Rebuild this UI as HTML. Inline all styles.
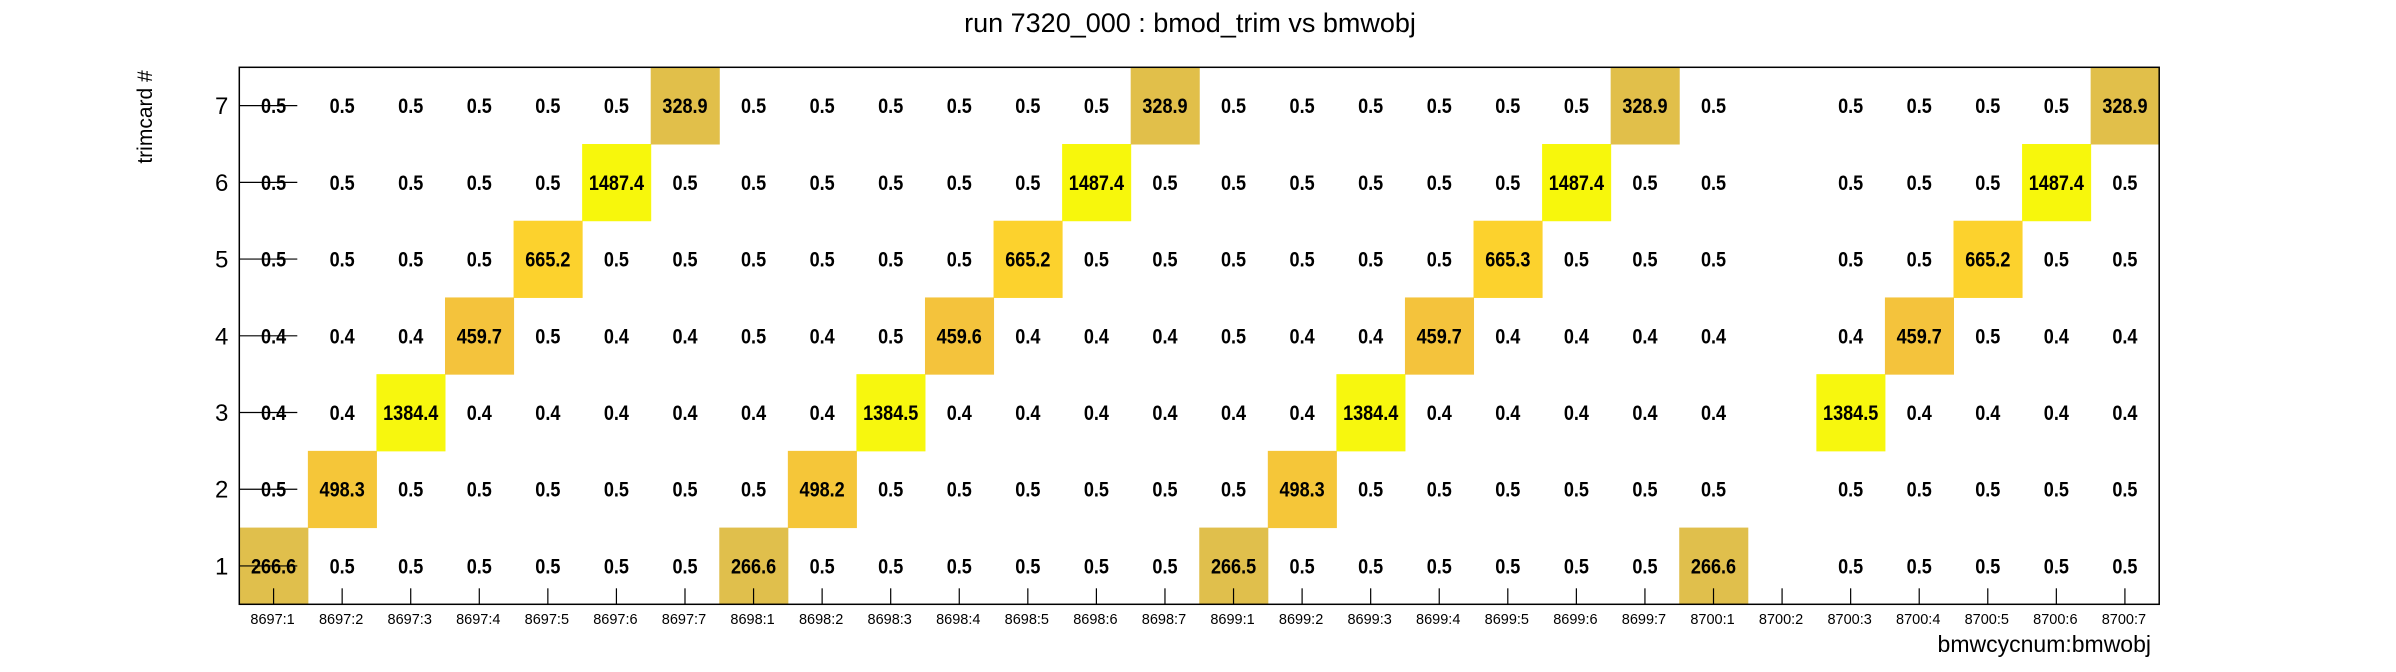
<!DOCTYPE html>
<html><head><meta charset="utf-8">
<style>
html,body{margin:0;padding:0;background:#fff;}
svg{display:block;font-family:"Liberation Sans",Arial,sans-serif;}
</style></head>
<body>
<svg id="chart" width="2396" height="672" viewBox="0 0 2396 672" xmlns="http://www.w3.org/2000/svg">
<rect width="2396" height="672" fill="#fff"/>
<text x="1190" y="32" font-size="27" text-anchor="middle" fill="#000">run 7320_000 : bmod_trim vs bmwobj</text>
<text transform="translate(152,117) rotate(-90)" font-size="21" text-anchor="middle" fill="#000">trimcard #</text>
<text x="2151" y="652" font-size="23" text-anchor="end" fill="#000">bmwcycnum:bmwobj</text>
<g id="cells"></g>
<g id="labels"></g>
<g id="axes"></g>
</svg>
<script>
const categories = ["8697:1","8697:2","8697:3","8697:4","8697:5","8697:6","8697:7","8698:1","8698:2","8698:3","8698:4","8698:5","8698:6","8698:7","8699:1","8699:2","8699:3","8699:4","8699:5","8699:6","8699:7","8700:1","8700:2","8700:3","8700:4","8700:5","8700:6","8700:7"];
const yTicks = ["1","2","3","4","5","6","7"];
// rows indexed from trimcard 1 (bottom) to 7 (top); null = empty
const row1 = [266.6,0.5,0.5,0.5,0.5,0.5,0.5,266.6,0.5,0.5,0.5,0.5,0.5,0.5,266.5,0.5,0.5,0.5,0.5,0.5,0.5,266.6,null,0.5,0.5,0.5,0.5,0.5];
const row2 = [0.5,498.3,0.5,0.5,0.5,0.5,0.5,0.5,498.2,0.5,0.5,0.5,0.5,0.5,0.5,498.3,0.5,0.5,0.5,0.5,0.5,0.5,null,0.5,0.5,0.5,0.5,0.5];
const row3 = [0.4,0.4,1384.4,0.4,0.4,0.4,0.4,0.4,0.4,1384.5,0.4,0.4,0.4,0.4,0.4,0.4,1384.4,0.4,0.4,0.4,0.4,0.4,null,1384.5,0.4,0.4,0.4,0.4];
const row4 = [0.4,0.4,0.4,459.7,0.5,0.4,0.4,0.5,0.4,0.5,459.6,0.4,0.4,0.4,0.5,0.4,0.4,459.7,0.4,0.4,0.4,0.4,null,0.4,459.7,0.5,0.4,0.4];
const row5 = [0.5,0.5,0.5,0.5,665.2,0.5,0.5,0.5,0.5,0.5,0.5,665.2,0.5,0.5,0.5,0.5,0.5,0.5,665.3,0.5,0.5,0.5,null,0.5,0.5,665.2,0.5,0.5];
const row6 = [0.5,0.5,0.5,0.5,0.5,1487.4,0.5,0.5,0.5,0.5,0.5,0.5,1487.4,0.5,0.5,0.5,0.5,0.5,0.5,1487.4,0.5,0.5,null,0.5,0.5,0.5,1487.4,0.5];
const row7 = [0.5,0.5,0.5,0.5,0.5,0.5,328.9,0.5,0.5,0.5,0.5,0.5,0.5,328.9,0.5,0.5,0.5,0.5,0.5,0.5,328.9,0.5,null,0.5,0.5,0.5,0.5,328.9];
const rows = [row1,row2,row3,row4,row5,row6,row7];

const L=239.3, R=2159.2, T=67.3, B=604.3;
const NS="http://www.w3.org/2000/svg";
const cw=(R-L)/categories.length, rh=(B-T)/yTicks.length;
function xPos(i){return L+i*cw;}
function yPos(j){return B-(j+1)*rh;}
function mk(tag,attrs,parent){const e=document.createElementNS(NS,tag);for(const k in attrs)e.setAttribute(k,attrs[k]);parent.appendChild(e);return e;}
const stops=[[0,[255,255,255]],[200,[222,190,78]],[330,[225,191,74]],[460,[244,195,60]],[665,[252,210,45]],[1000,[250,230,30]],[1384,[247,247,14]],[1500,[247,247,12]]];
function color(v){
  if(v<1) return null;
  for(let k=1;k<stops.length;k++){
    if(v<=stops[k][0]){const a=stops[k-1],b=stops[k];const t=(v-a[0])/(b[0]-a[0]);
      const c=a[1].map((x,i)=>Math.round(x+(b[1][i]-x)*t));return `rgb(${c.join(',')})`;}
  }
  return 'rgb(247,247,12)';
}
const cells=document.getElementById('cells'), labels=document.getElementById('labels'), axes=document.getElementById('axes');
rows.forEach((row,j)=>{
  row.forEach((v,i)=>{
    if(v===null) return;
    const c=color(v);
    if(c){const r=mk('rect',{x:xPos(i),y:yPos(j),width:cw+0.5,height:rh+0.5,fill:c},cells);
      
      }
    const t=mk('text',{transform:`translate(${xPos(i)+cw/2},${yPos(j)+rh/2+7.5}) scale(0.86,1)`,'font-size':'21','font-weight':'bold','text-anchor':'middle',fill:'#000'},labels);
    t.textContent=v.toFixed(1);
    
    
  });
});
// frame
const fr=mk('rect',{x:L,y:T,width:R-L,height:B-T,fill:'none',stroke:'#000','stroke-width':'1.5'},axes);


yTicks.forEach((lab,j)=>{
  const yc=yPos(j)+rh/2;
  const tk=mk('line',{x1:L,x2:L+58,y1:yc,y2:yc,stroke:'#000','stroke-width':'1.2'},axes);
  
  
  const t=mk('text',{x:L-11,y:yc+8.5,'font-size':'24','text-anchor':'end',fill:'#000'},axes);
  t.textContent=lab;
  
  
});
categories.forEach((lab,i)=>{
  const xc=xPos(i)+cw/2;
  const tk=mk('line',{x1:xc,x2:xc,y1:B,y2:B-16,stroke:'#000','stroke-width':'1.2'},axes);
  
  
  const t=mk('text',{x:xc-1,y:624,'font-size':'14.5','text-anchor':'middle',fill:'#000'},axes);
  t.textContent=lab;
  
  
});
</script>
</body></html>
